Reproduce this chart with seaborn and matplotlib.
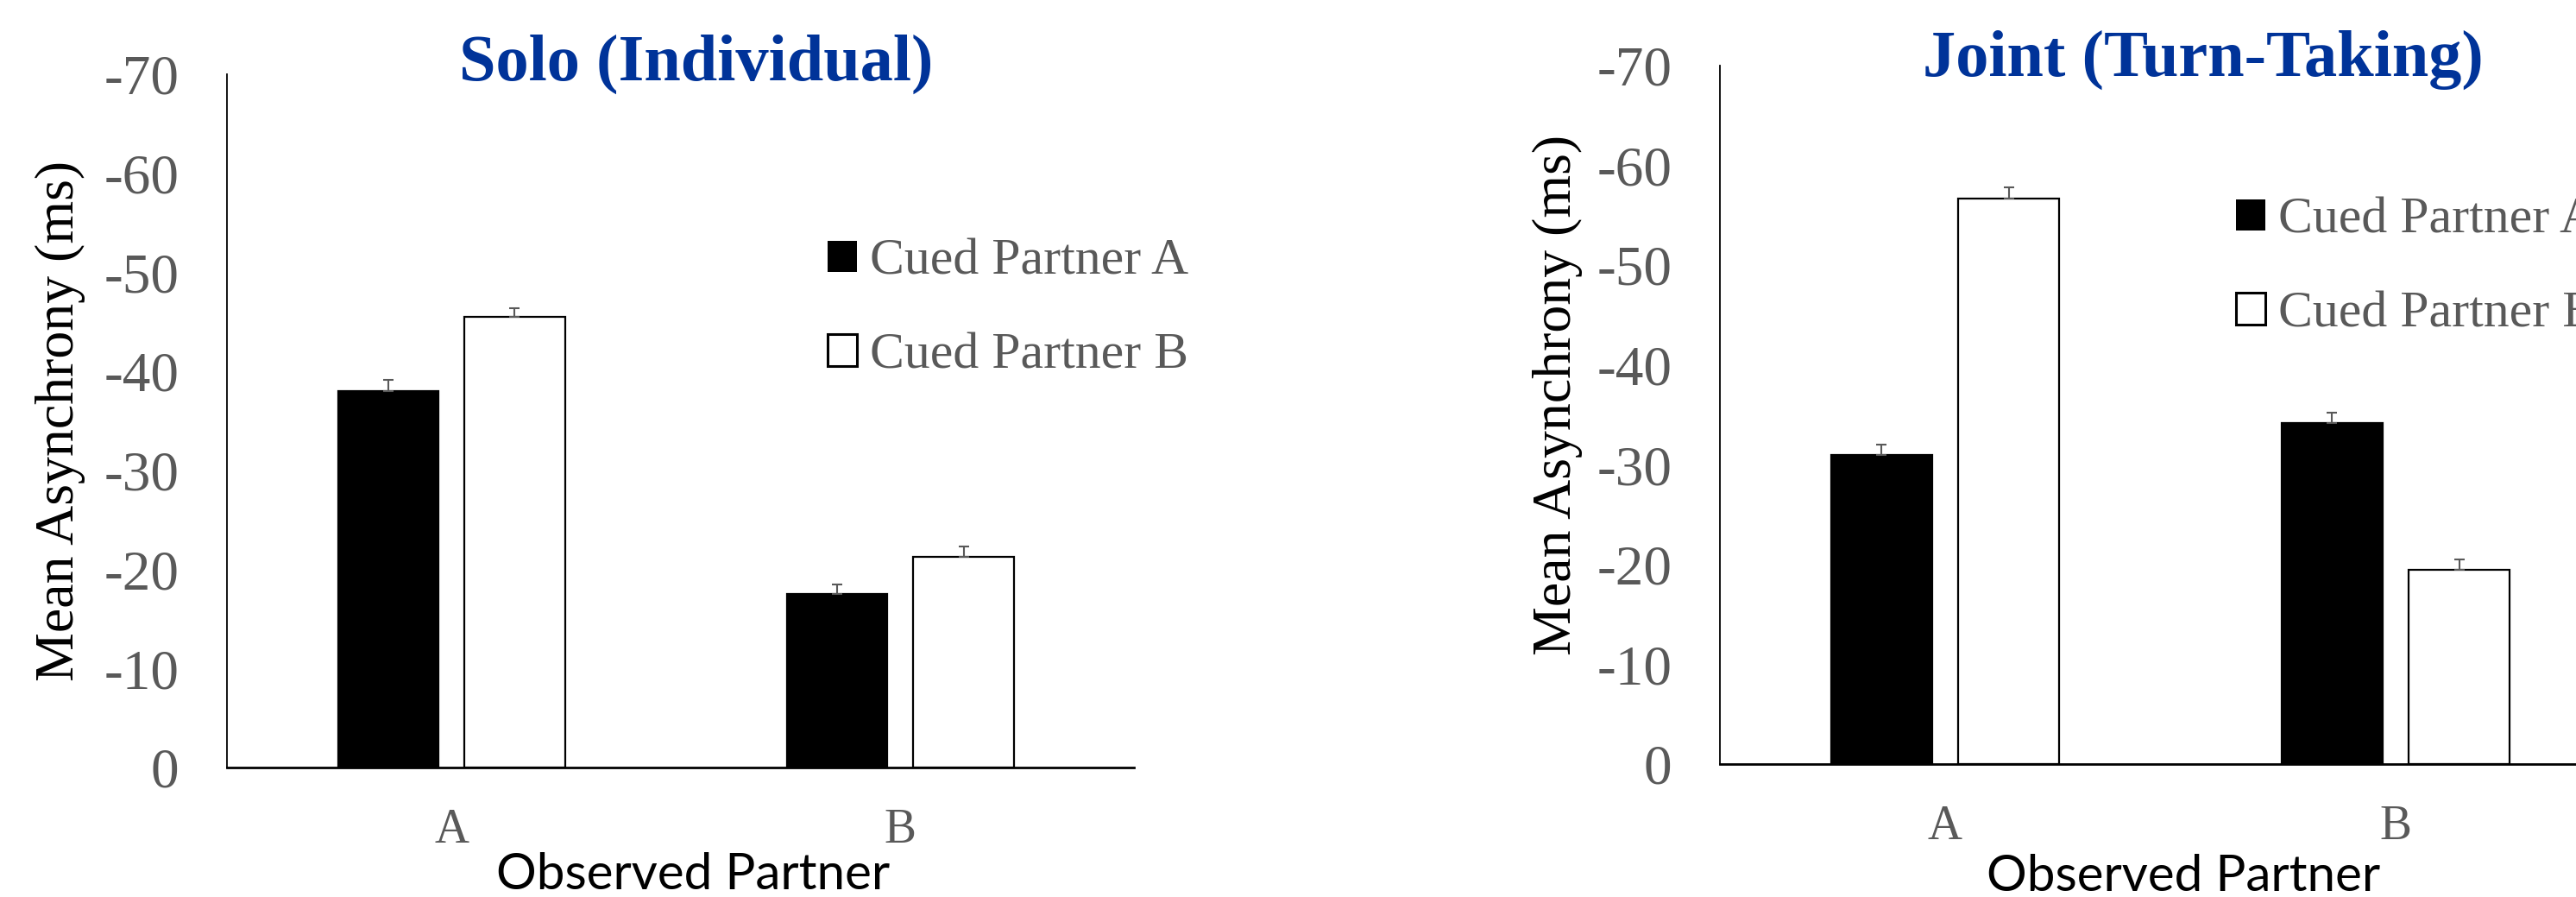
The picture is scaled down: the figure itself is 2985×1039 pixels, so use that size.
import numpy as np
import pandas as pd
import matplotlib
matplotlib.use("Agg")
import matplotlib.pyplot as plt
from matplotlib.patches import Patch
import seaborn as sns

# ---- data -------------------------------------------------------------
observed = ["A", "B"]
cued = ["Cued Partner A", "Cued Partner B"]

solo_cued_a = [-38.0, -17.5]
solo_cued_b = [-45.5, -21.3]
solo_err_a = [1.1, 1.0]
solo_err_b = [0.9, 1.0]

joint_cued_a = [-31.0, -34.2]
joint_cued_b = [-56.7, -19.5]
joint_err_a = [1.0, 1.0]
joint_err_b = [1.1, 1.0]

y_ticks = [0, -10, -20, -30, -40, -50, -60, -70]
y_tick_labels = ["0", "-10", "-20", "-30", "-40", "-50", "-60", "-70"]
titles = ["Solo (Individual)", "Joint (Turn-Taking)"]
y_label = "Mean Asynchrony (ms)"
x_label = "Observed Partner"

# ---- style ------------------------------------------------------------
sns.set_theme(style="white")
plt.rcParams["font.family"] = ["Liberation Serif", "DejaVu Serif"]
plt.rcParams["axes.unicode_minus"] = False

W, H = 2985, 1039
GRAY = "#595959"
BLUE = "#003399"
SERIF = ["Liberation Serif", "DejaVu Serif"]
SANS = ["Lato", "Open Sans", "DejaVu Sans"]

fig = plt.figure(figsize=(W / 100, H / 100), dpi=100)


def px_rect(x0, y0, x1, y1):
    """Figure-fraction rectangle from pixel corners (top-left origin)."""
    return [x0 / W, 1 - y1 / H, (x1 - x0) / W, (y1 - y0) / H]


def panel(ax, vals_a, vals_b, err_a, err_b, title, xlim, title_pos,
          ylabel_pos, xlabel_pos, legend_px):
    df = pd.DataFrame({
        "observed": observed * 2,
        "cued": [cued[0]] * len(observed) + [cued[1]] * len(observed),
        "asynchrony": list(vals_a) + list(vals_b),
    })
    sns.barplot(data=df, x="observed", y="asynchrony", hue="cued",
                order=observed, hue_order=cued,
                palette=["black", "white"], edgecolor="black", linewidth=1.6,
                width=0.565, gap=0.21, errorbar=None, legend=False, ax=ax)

    # one-sided error bars (toward larger asynchrony)
    for container, err in zip(ax.containers, [err_a, err_b]):
        xs = [b.get_x() + b.get_width() / 2 for b in container]
        ys = [b.get_y() + b.get_height() for b in container]
        err = np.asarray(err)
        ax.errorbar(xs, ys, yerr=[err, np.zeros_like(err)], fmt="none",
                    ecolor=GRAY, elinewidth=1.5, capsize=4.5, capthick=1.5,
                    zorder=5)

    ax.set_ylim(0, -70)
    ax.set_xlim(*xlim)
    ax.set_yticks(y_ticks)
    ax.set_yticklabels(y_tick_labels)
    ax.tick_params(axis="y", length=0, pad=40, labelsize=47,
                   labelcolor=GRAY)
    ax.tick_params(axis="x", length=0, pad=34, labelsize=40,
                   labelcolor=GRAY)
    for lab in ax.get_xticklabels() + ax.get_yticklabels():
        lab.set_family(SERIF)

    sns.despine(ax=ax)
    ax.spines["left"].set_linewidth(1.3)
    ax.spines["bottom"].set_linewidth(2.0)
    ax.spines["left"].set_color("black")
    ax.spines["bottom"].set_color("black")

    ax.set_ylabel(y_label, fontsize=46, family=SERIF, color="black",
                  va="center")
    ax.yaxis.set_label_coords(*ylabel_pos)
    ax.set_xlabel(x_label, fontsize=42, family=SANS, color="black",
                  va="baseline")
    ax.xaxis.set_label_coords(*xlabel_pos)

    ax.set_title(title, fontsize=55, family=SERIF, fontweight="bold",
                 color=BLUE, x=title_pos[0], y=title_pos[1], va="baseline")

    handles = [Patch(facecolor="black", edgecolor="black", linewidth=0),
               Patch(facecolor="white", edgecolor="black", linewidth=2.2)]
    ax.legend(handles, cued, loc="upper left",
              bbox_to_anchor=(legend_px[0] / W, 1 - legend_px[1] / H),
              bbox_transform=fig.transFigure, frameon=False,
              prop={"family": SERIF, "size": 43}, labelcolor=GRAY,
              handlelength=0.57, handleheight=0.57, handletextpad=0.25,
              labelspacing=0.92, borderpad=0, borderaxespad=0)


ax_solo = fig.add_axes(px_rect(263, 86, 1314, 889))
ax_joint = fig.add_axes(px_rect(1993, 76, 3037, 885))

panel(ax_solo, solo_cued_a, solo_cued_b, solo_err_a, solo_err_b, titles[0],
      xlim=(-0.5, 1.521), title_pos=(0.5176, 0.9813),
      ylabel_pos=(-0.1836, 0.5), xlabel_pos=(0.514, -0.1756),
      legend_px=(959, 277))
panel(ax_joint, joint_cued_a, joint_cued_b, joint_err_a, joint_err_b,
      titles[1], xlim=(-0.5, 1.5), title_pos=(0.536, 0.9753),
      ylabel_pos=(-0.180, 0.529), xlabel_pos=(0.514, -0.1817),
      legend_px=(2591, 229))

fig.savefig("out.png", dpi=100, facecolor="white")
